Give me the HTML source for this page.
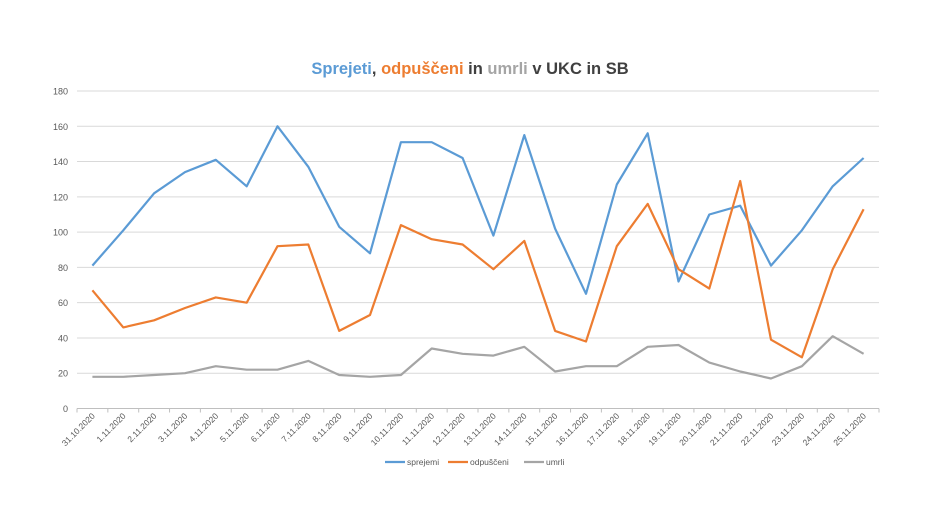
<!DOCTYPE html>
<html><head><meta charset="utf-8"><style>
body{margin:0;background:#fff;}
svg{display:block;font-family:"Liberation Sans",sans-serif;}
</style></head><body>
<svg id="c" width="940" height="529" xmlns="http://www.w3.org/2000/svg"></svg>
<script>
const s=document.getElementById('c');
const B=[81,101,122,134,141,126,160,137,103,88,151,151,142,98,155,102,65,127,156,72,110,115,81,101,126,142];
const O=[67,46,50,57,63,60,92,93,44,53,104,96,93,79,95,44,38,92,116,79,68,129,39,29,79,113];
const G=[18,18,19,20,24,22,22,27,19,18,19,34,31,30,35,21,24,24,35,36,26,21,17,24,41,31];
const L=['31.10.2020'];for(let i=1;i<=25;i++)L.push(i+'.11.2020');
const x0=77,x1=879,y0=408.5,ppu=(408.5-91)/180,w=(x1-x0)/26;
const X=i=>x0+w*(i+0.5),Y=v=>y0-v*ppu;
let h='<text x="470" y="74" text-anchor="middle" font-size="16.5" font-weight="bold"><tspan fill="#5b9bd5">Sprejeti</tspan><tspan fill="#404040">, </tspan><tspan fill="#ed7d31">odpuščeni</tspan><tspan fill="#404040"> in </tspan><tspan fill="#a5a5a5">umrli</tspan><tspan fill="#404040"> v UKC in SB</tspan></text>';
for(let v=0;v<=180;v+=20){const y=Y(v);
 if(v>0)h+=`<line x1="${x0}" x2="${x1}" y1="${y}" y2="${y}" stroke="#d9d9d9" stroke-width="1"/>`;
 h+=`<text x="68" y="${y+3.5}" text-anchor="end" font-size="9" fill="#595959">${v}</text>`;}
h+=`<line x1="${x0}" x2="${x1}" y1="${y0}" y2="${y0}" stroke="#bfbfbf"/>`;
for(let i=0;i<=26;i++){const x=x0+w*i;h+=`<line x1="${x}" x2="${x}" y1="${y0}" y2="${y0+4}" stroke="#bfbfbf"/>`;}
L.forEach((t,i)=>{const x=X(i)+3,y=y0+8;h+=`<text x="${x}" y="${y}" text-anchor="end" font-size="8.5" fill="#595959" transform="rotate(-45 ${x} ${y})">${t}</text>`;});
[[B,'#5b9bd5'],[O,'#ed7d31'],[G,'#a5a5a5']].forEach(([d,c])=>{h+=`<polyline fill="none" stroke="${c}" stroke-width="2.2" stroke-linejoin="round" points="${d.map((v,i)=>X(i).toFixed(1)+','+Y(v).toFixed(1)).join(' ')}"/>`;});
const lg=[['sprejemi','#5b9bd5',385],['odpuščeni','#ed7d31',448],['umrli','#a5a5a5',524]];
lg.forEach(([t,c,x])=>{h+=`<line x1="${x}" x2="${x+20}" y1="462" y2="462" stroke="${c}" stroke-width="2.2"/><text x="${x+22}" y="465" font-size="8.5" fill="#595959">${t}</text>`;});
s.innerHTML=h;
</script>
</body></html>
